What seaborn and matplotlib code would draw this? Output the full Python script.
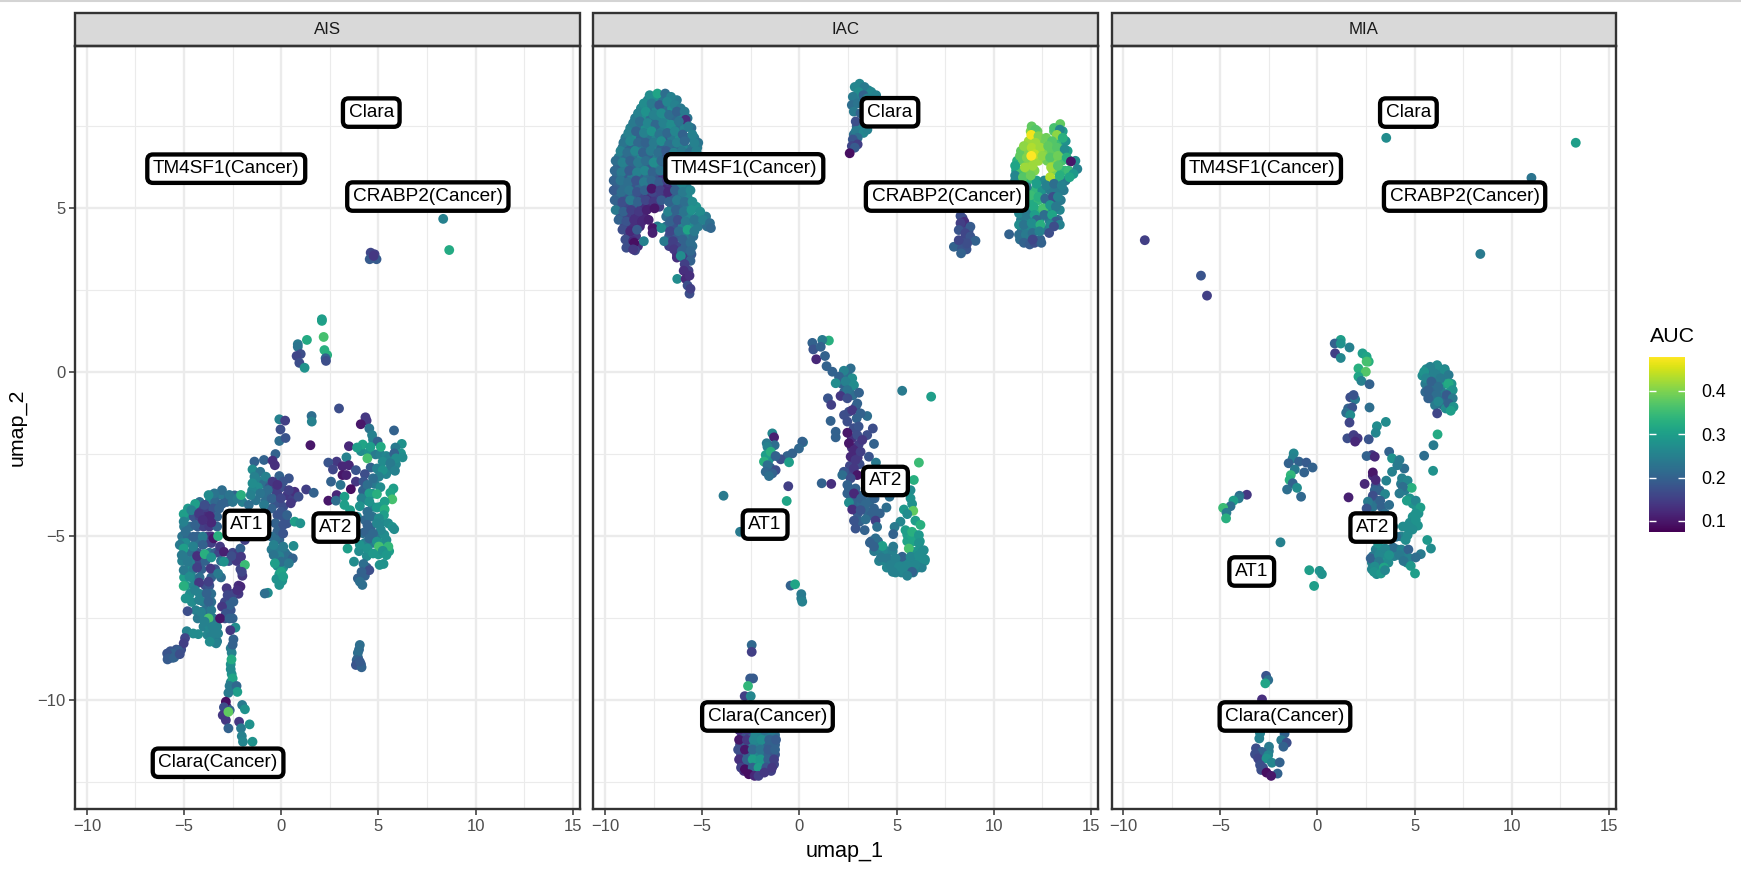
import pandas as pd
import seaborn as sns
import matplotlib
matplotlib.use('Agg')
import matplotlib.pyplot as plt
from matplotlib.cm import ScalarMappable
from matplotlib.colors import Normalize
from matplotlib.lines import Line2D
from matplotlib.patches import Rectangle

# (umap_1, umap_2, AUC), cluster by cluster
ais_top = [(4.6,3.65,.16),(4.8,3.6,.15),(4.55,3.45,.19),(4.9,3.45,.19),(4.75,3.55,.14),(8.33,4.68,.25),(8.64,3.73,.32),
    (2.09,1.57,.31),(2.09,1.62,.3),(2.18,1.08,.36),(2.22,.68,.33),(2.36,.53,.33),(1.32,.99,.32),(.85,.86,.24),(.85,.78,.23),
    (1.0,.56,.17),(.79,.5,.16),(.93,.29,.17),(1.2,.14,.28),(2.28,.43,.2),(2.3,.35,.17)]
ais_at2_fill = [(4.1,-2.4,.27),(4.5,-2.45,.28),(4.85,-2.5,.24),(5.1,-2.5,.25),(5.4,-2.55,.26),(5.55,-2.6,.25),(5.9,-2.8,.26),(5.6,-2.95,.24),(5.4,-3.1,.26),
    (4.6,-2.9,.2),(4.3,-3.1,.17),(4.8,-3.4,.24),(5.1,-3.5,.27),(4.2,-3.6,.2),(4.7,-3.7,.28),(4.4,-3.9,.26),(4.7,-4.1,.25),(5.1,-4.1,.29),(3.9,-4.4,.26),
    (4.3,-4.5,.21),(4.7,-4.4,.23),(5.2,-4.55,.26),(5.5,-4.6,.27),(4.6,-4.75,.2),(4.2,-4.9,.22),(5,-4.95,.24),(5.3,-4.95,.27),(4.7,-5.2,.24),(4.3,-5.2,.25),
    (5.25,-5.2,.3),(4.0,-5.45,.27),(4.4,-5.6,.27),(5.0,-5.55,.29),(5.55,-5.45,.3),(4.4,-5.95,.19),(4.3,-6.2,.2),
    (4.0,-8.45,.21),(3.95,-8.7,.2),(4.1,-8.9,.19)]
ais_at2 = [(2.97,-1.1,.17),(4.33,-1.37,.14),(4.39,-1.47,.14),(4.09,-1.58,.1),(4.53,-1.71,.23),(5.8,-1.77,.2),(4.67,-1.91,.25),(4.72,-2.05,.25),
    (4.96,-2.11,.2),(6.2,-2.18,.28),(4.19,-2.2,.31),(3.48,-2.25,.12),(3.9,-2.29,.3),(4.59,-2.27,.3),(5.12,-2.27,.32),(5.87,-2.29,.24),
    (6.16,-2.47,.28),(5.81,-2.47,.2),(6.24,-2.59,.27),(5.9,-2.62,.27),(3.35,-2.59,.25),(4.43,-2.62,.36),(2.85,-2.72,.14),(2.42,-2.75,.18),
    (5.22,-2.72,.27),(5.61,-2.77,.24),(3.15,-2.86,.12),(3.48,-2.83,.12),(2.66,-2.96,.16),(3.84,-2.98,.18),(4.92,-2.93,.25),(5.22,-2.98,.28),
    (5.85,-3.0,.25),(3.15,-3.13,.1),(3.35,-3.13,.11),(5.02,-3.18,.25),(4.72,-3.23,.22),(2.56,-3.33,.2),(3.84,-3.33,.14),(4.23,-3.33,.18),
    (3.05,-3.43,.23),(4.43,-3.43,.22),(3.58,-3.56,.09),(5.77,-3.54,.3),(5.61,-3.67,.31),(4.53,-3.69,.3),(4.92,-3.71,.33),(2.85,-3.74,.12),
    (3.25,-3.79,.3),(4.13,-3.84,.25),(5.71,-3.87,.36),(2.42,-3.91,.1),(2.81,-3.91,.22),(4.53,-3.94,.28),(5.32,-3.94,.3),(3.25,-4.04,.3),
    (4.04,-4.08,.28),(4.92,-4.12,.29),(5.32,-4.18,.33),(3.54,-4.2,.3),(4.43,-4.25,.22),(5.28,-4.35,.3),(4.53,-4.4,.22),(5.02,-4.45,.27),
    (4.92,-4.6,.26),(4.43,-4.65,.2),(5.71,-4.71,.28),(5.12,-4.8,.26),(5.81,-4.78,.27),(4.33,-4.86,.2),(4.72,-4.91,.21),(4.53,-5.06,.21),
    (5.41,-5.11,.27),(4.92,-5.16,.28),(4.04,-5.26,.28),(3.41,-5.37,.3),(5.51,-5.31,.34),(5.02,-5.31,.36),(4.43,-5.37,.28),(5.22,-5.44,.28),
    (4.72,-5.52,.29),(5.41,-5.57,.29),(3.74,-5.77,.27),(4.23,-5.84,.22),(5.06,-5.87,.28),(5.26,-5.84,.28),(4.53,-6.03,.17),(4.13,-6.08,.2),
    (3.94,-6.28,.2),(4.04,-6.38,.22),(4.17,-6.48,.22),
    (4.04,-8.31,.22),(3.94,-8.55,.22),(3.88,-8.77,.2),(3.98,-8.87,.17),(3.84,-8.92,.18),(4.13,-8.99,.2),(4.04,-8.82,.19)]
ais_at1_fill = [(-3.6,-3.75,.24),(-3.3,-3.75,.22),(-3.0,-3.75,.24),(-2.7,-3.75,.22),(-2.4,-3.75,.2),(-2.1,-3.75,.24),
    (-4.2,-3.95,.22),(-3.7,-3.95,.26),(-3.4,-3.95,.21),(-2.8,-3.95,.2),(-2.5,-3.95,.23),(-2.0,-3.95,.25),
    (-4.8,-4.15,.29),(-4.4,-4.15,.27),(-4.1,-4.15,.16),(-3.8,-4.15,.15),(-3.5,-4.15,.18),(-3.2,-4.15,.2),
    (-4.9,-4.4,.26),(-4.5,-4.4,.18),(-4.2,-4.4,.16),(-3.9,-4.4,.13),(-3.3,-4.4,.2),
    (-5.0,-4.7,.24),(-4.7,-4.7,.22),(-4.3,-4.7,.19),(-4.0,-4.7,.15),(-3.7,-4.7,.14),(-3.3,-4.7,.2),
    (-5.1,-5.0,.23),(-4.8,-5.0,.21),(-4.3,-5.0,.2),(-3.8,-5.0,.15),(-3.6,-5.0,.13),
    (-5.1,-5.2,.25),(-4.9,-5.2,.27),(-4.4,-5.2,.22),(-3.9,-5.2,.18),(-3.6,-5.2,.15),
    (-4.9,-5.5,.24),(-4.6,-5.5,.22),(-4.3,-5.5,.19),(-3.7,-5.5,.24),(-3.4,-5.5,.2),(-3.2,-5.5,.16),(-2.5,-5.5,.16),(-2.2,-5.5,.15),
    (-5.1,-5.75,.25),(-4.6,-5.75,.25),(-4.2,-5.75,.16),(-3.9,-5.75,.2),(-3.1,-5.75,.23),(-2.7,-5.75,.18),(-2.3,-5.75,.14),
    (-4.8,-6.0,.27),(-4.5,-6.0,.24),(-4.1,-6.0,.2),(-3.4,-6.0,.18),(-2.1,-6.0,.16),(-2.0,-6.2,.14),
    (-5.0,-6.25,.3),(-4.6,-6.25,.26),(-4.2,-6.25,.22),(-3.6,-6.25,.2),(-3.1,-6.25,.22),
    (-4.9,-6.5,.3),(-4.5,-6.5,.26),(-3.9,-6.5,.17),(-3.7,-6.5,.18),(-2.2,-6.5,.13),
    (-4.7,-6.75,.27),(-4.2,-6.75,.25),(-3.6,-6.75,.22),(-2.2,-6.75,.14),(-2.5,-6.75,.16),
    (-4.6,-7.0,.27),(-4.0,-7.0,.24),(-3.6,-7.0,.22),(-2.9,-7.0,.16),(-2.6,-7.0,.18),
    (-4.4,-7.25,.25),(-3.9,-7.25,.22),(-3.6,-7.25,.24),(-2.6,-7.25,.18),
    (-4.3,-7.5,.24),(-3.95,-7.5,.25),(-3.5,-7.5,.24),(-2.9,-7.5,.17),(-2.5,-7.5,.2),
    (-4.0,-7.75,.25),(-3.7,-7.75,.26),(-3.3,-7.75,.25),(-3.8,-8.0,.26),(-3.5,-8.0,.25),(-3.5,-8.2,.25),(-3.3,-8.2,.24),
    (-1.2,-3.3,.25),(-.9,-3.4,.22),(-.6,-3.5,.18),(-.3,-3.6,.15),(0,-3.5,.17),(-1.2,-3.5,.27),(-1.5,-3.6,.26),(-.9,-3.7,.22),(-.2,-3.7,.15),(.3,-3.75,.14),(.6,-3.85,.15),
    (-.8,-3.9,.22),(-1.3,-3.9,.23),(-.3,-4.0,.18),(.1,-4.1,.17),(-.5,-4.15,.2),(-.2,-4.35,.18),(.1,-4.4,.18),(-.3,-4.6,.2),(.3,-4.6,.18),(-.2,-4.85,.2),(-.1,-5.1,.2),
    (-.3,-5.1,.22),(-.5,-5.4,.24),(-.1,-5.4,.24),(.2,-5.5,.23),(.35,-5.6,.22),(-.1,-5.6,.25),(-.2,-5.9,.27),(.1,-5.95,.27),(-.1,-6.15,.3),(.05,-6.35,.28),(-.25,-6.3,.28)]
ais_at1 = [(-.1,-1.43,.25),(.2,-1.47,.15),(-.04,-1.74,.17),(-.1,-2.09,.22),(.22,-2.0,.18),(1.56,-1.33,.22),(1.57,-1.5,.25),(1.5,-2.22,.1),
    (-.3,-2.49,.2),(-.89,-2.67,.2),(-1.38,-2.72,.2),(-.45,-2.69,.13),(-.33,-2.83,.13),(-1.48,-2.96,.27),(-1.08,-3.03,.23),(-1.38,-3.18,.25),
    (-.79,-3.18,.25),(-.1,-3.16,.2),(.39,-3.23,.18),(-1.48,-3.38,.27),(-.45,-3.33,.14),(.1,-3.33,.18),(-.2,-3.43,.13),(1.28,-3.57,.15),
    (1.67,-3.67,.2),(.69,-3.64,.13),(.39,-3.59,.15),(-.69,-3.59,.22),(-1.08,-3.69,.23),(-3.05,-3.59,.22),(-3.44,-3.69,.23),(-2.66,-3.74,.23),
    (-3.74,-3.74,.27),(-2.26,-3.84,.24),(-2.07,-3.74,.33),(-1.57,-3.74,.25),(-.49,-3.84,.2),(-.02,-3.84,.16),(.89,-3.79,.17),(.49,-3.99,.14),(-4.43,-4.01,.3),
    (-3.94,-4.04,.17),(-3.05,-4.01,.2),(-1.67,-4.04,.22),(-.89,-4.04,.24),(-5.02,-4.32,.3),(-4.63,-4.2,.25),(-4.23,-4.3,.14),(-3.68,-4.38,.12),
    (0,-4.25,.18),(.3,-4.35,.2),(.69,-4.55,.3),(.98,-4.6,.28),(-5.02,-4.55,.25),(-4.43,-4.65,.2),(-3.6,-4.58,.12),(-4.04,-4.5,.13),(.1,-4.65,.18),
    (-4.92,-4.86,.22),(-4.53,-5.01,.2),(-4.04,-5.01,.24),(-3.48,-5.06,.1),(-3.25,-4.99,.33),(.1,-4.91,.18),(-.49,-5.01,.22),(-5.22,-5.26,.24),
    (-5.02,-5.37,.3),(-4.53,-5.31,.25),(-4.04,-5.26,.2),(-3.15,-5.31,.14),(-2.1,-5.37,.2),(-1.87,-5.11,.15),(-.39,-5.26,.25),(.1,-5.31,.24),
    (.63,-5.29,.27),(-2.95,-5.47,.11),(-5.12,-5.57,.24),(-4.33,-5.6,.13),(-3.94,-5.54,.33),(-3.6,-5.64,.28),(-2.56,-5.6,.17),(-2.07,-5.62,.14),
    (-.39,-5.57,.23),(.59,-5.67,.2),(-4.82,-5.77,.24),(-2.95,-5.77,.28),(-1.87,-5.87,.35),(0,-5.77,.22),(.39,-5.82,.24),(-.33,-5.82,.3),
    (-4.33,-5.95,.15),(-3.64,-5.98,.14),(-5.02,-6.03,.24),(-3.25,-6.13,.24),(-2.03,-6.08,.16),(0,-6.08,.31),(-4.72,-6.23,.27),(.1,-6.23,.3),
    (-4.23,-6.41,.14),(-3.74,-6.38,.15),(-5.02,-6.51,.33),(-2.1,-6.53,.12),(-.1,-6.48,.28),(-2.81,-6.58,.14),(-4.43,-6.64,.25),(-2.26,-6.64,.13),
    (-.69,-6.72,.27),(-.85,-6.74,.22),(-3.84,-6.74,.2),(-2.76,-6.79,.16),(-4.92,-6.89,.28),(-4.23,-6.94,.25),(-3.74,-6.99,.2),(-2.46,-6.99,.2),
    (-2.66,-7.1,.2),(-3.05,-7.14,.14),(-4.82,-7.28,.17),(-4.13,-7.3,.25),(-2.85,-7.35,.18),(-3.74,-7.5,.36),(-3.15,-7.5,.1),(-2.66,-7.5,.2),
    (-3.94,-7.6,.25),(-3.54,-7.75,.25),(-2.36,-7.78,.27),(-2.62,-7.86,.14),(-4.86,-7.89,.25),(-4.53,-7.96,.27),(-4.27,-7.98,.27),(-3.25,-7.96,.25),
    (-3.64,-8.06,.25),(-2.46,-8.14,.2),(-3.35,-8.26,.25),(-3.68,-8.21,.27),(-2.6,-8.41,.24)]
ais_tail = [(-5.8,-8.65,.19),(-5.7,-8.5,.18),(-5.4,-8.45,.18),(-5.6,-8.7,.2),(-5.15,-8.45,.17),(-5.35,-8.6,.19),(-5.85,-8.75,.19),(-4.95,-8.1,.16),
    (-5.02,-8.26,.15),(-5.31,-8.47,.19),(-5.61,-8.57,.2),(-5.87,-8.57,.18),(-5.81,-8.72,.19),(-5.51,-8.69,.2),(-5.22,-8.59,.17),
    (-2.55,-8.55,.25),(-2.5,-8.3,.2),(-2.6,-8.9,.28),(-2.55,-9.2,.28),(-2.6,-9.45,.26),(-2.45,-9.6,.24),(-2.8,-10.2,.15),(-2.65,-10.3,.2),
    (-2.56,-8.75,.32),(-2.6,-9.05,.27),(-2.5,-9.33,.31),(-2.66,-9.56,.24),(-2.3,-9.56,.21),(-2.26,-9.74,.3),(-2.72,-9.77,.24),(-2.85,-10.04,.09),
    (-2.95,-10.21,.17),(-2.85,-10.6,.14),(-3.01,-10.45,.14),(-2.72,-10.35,.38),(-2.72,-10.85,.2),(-2.01,-10.14,.24),(-1.87,-10.27,.28),
    (-2.17,-10.65,.14),(-1.63,-10.73,.28),(-2.07,-10.85,.24),(-2.03,-11.09,.25),(-1.97,-11.26,.26),(-1.48,-11.26,.28)]

iac_tm4sf1_fill = [(-7.8,8.3,.25),(-7.4,8.3,.27),(-7.0,8.3,.23),(-6.6,8.3,.25),(-6.3,8.3,.24),
    (-8.15,8.05,.26),(-7.75,8.05,.23),(-7.35,8.05,.26),(-6.95,8.05,.22),(-6.55,8.05,.27),(-6.2,8.05,.22),
    (-8.45,7.75,.24),(-8.05,7.75,.27),(-7.65,7.75,.22),(-7.25,7.75,.25),(-6.85,7.75,.28),(-6.45,7.75,.21),(-6.05,7.75,.25),(-5.75,7.75,.23),
    (-8.7,7.45,.25),(-8.3,7.45,.23),(-7.9,7.45,.27),(-7.5,7.45,.2),(-7.1,7.45,.24),(-6.7,7.45,.27),(-6.3,7.45,.22),(-5.9,7.45,.25),(-5.55,7.45,.22),
    (-8.95,7.15,.24),(-8.55,7.15,.27),(-8.15,7.15,.2),(-7.75,7.15,.23),(-7.35,7.15,.26),(-6.95,7.15,.19),(-6.55,7.15,.24),(-6.15,7.15,.27),(-5.75,7.15,.22),(-5.4,7.15,.24),(-5.2,7.0,.23),
    (-9.1,6.85,.23),(-8.7,6.85,.2),(-8.3,6.85,.25),(-7.9,6.85,.22),(-7.5,6.85,.26),(-7.1,6.85,.2),(-6.7,6.85,.24),(-6.3,6.85,.2),(-5.9,6.85,.26),(-5.5,6.85,.23),(-5.25,6.85,.24),
    (-9.3,6.55,.24),(-8.9,6.55,.21),(-8.5,6.55,.23),(-8.1,6.55,.26),(-7.7,6.55,.2),(-7.3,6.55,.24),(-6.9,6.55,.17),(-6.5,6.55,.2),(-6.1,6.55,.24),(-5.7,6.55,.25),(-5.25,6.55,.25),(-5.15,6.6,.24),
    (-9.35,6.25,.2),(-8.95,6.25,.24),(-8.55,6.25,.2),(-8.15,6.25,.23),(-7.75,6.25,.19),(-7.35,6.25,.25),(-6.95,6.25,.18),(-6.55,6.25,.15),(-6.15,6.25,.22),(-5.2,6.3,.22),
    (-9.4,5.95,.22),(-9,5.95,.19),(-8.6,5.95,.24),(-8.2,5.95,.2),(-7.8,5.95,.22),(-7.4,5.95,.18),(-7,5.95,.14),(-6.6,5.95,.18),
    (-9.4,5.65,.2),(-9,5.65,.22),(-8.6,5.65,.18),(-8.2,5.65,.21),(-7.8,5.65,.18),(-7.4,5.65,.15),(-7,5.65,.12),(-6.6,5.65,.13),(-6.2,5.65,.2),(-5.8,5.65,.24),(-9.45,5.5,.21),
    (-9.35,5.35,.22),(-8.95,5.35,.19),(-8.55,5.35,.2),(-8.15,5.35,.16),(-7.75,5.35,.13),(-7.35,5.35,.15),(-6.95,5.35,.13),(-6.55,5.35,.19),(-6.15,5.35,.23),(-5.75,5.35,.26),
    (-9.3,5.05,.18),(-8.9,5.05,.16),(-8.5,5.05,.2),(-8.1,5.05,.13),(-7.7,5.05,.12),(-7.2,5.05,.15),(-6.55,5.05,.22),(-6.15,5.05,.21),(-5.75,5.05,.25),(-5.3,5.05,.28),
    (-9.2,4.75,.17),(-8.8,4.75,.15),(-8.4,4.75,.13),(-8,4.75,.12),(-6.85,4.75,.22),(-6.45,4.75,.2),(-6.05,4.75,.24),(-5.65,4.75,.26),(-5.2,4.75,.26),(-4.8,4.75,.24),
    (-9.0,4.45,.16),(-8.6,4.45,.13),(-8.2,4.45,.12),(-7.3,4.45,.24),(-6.85,4.45,.22),(-6.45,4.45,.18),(-6,4.45,.25),(-5.6,4.45,.27),(-5.2,4.45,.24),(-4.75,4.45,.22),
    (-8.8,4.15,.14),(-8.4,4.15,.14),(-6.7,4.15,.18),(-6.3,4.15,.19),(-5.85,4.15,.24),(-5.45,4.15,.22),
    (-8.7,3.85,.16),(-8.3,3.85,.13),(-6.7,3.85,.15),(-6.25,3.85,.16),(-5.85,3.85,.2),(-5.5,3.85,.22),(-6.3,3.6,.14),(-5.95,3.6,.16),(-5.55,3.6,.19)]
iac_tm4sf1 = [(-7.7,8.45,.27),(-7.3,8.5,.31),(-6.9,8.5,.22),(-6.6,8.4,.25),
    (-8.0,8.2,.27),(-7.6,8.2,.24),(-7.2,8.15,.19),(-6.8,8.25,.26),(-6.4,8.15,.25),(-6.1,8.05,.24),
    (-8.3,7.9,.25),(-7.9,7.95,.28),(-7.5,7.85,.25),(-7.1,7.9,.27),(-6.7,7.85,.22),(-6.3,7.95,.2),(-5.9,7.95,.24),(-5.85,7.7,.13),
    (-8.55,7.6,.24),(-8.2,7.65,.22),(-7.8,7.6,.26),(-7.4,7.55,.21),(-7.0,7.6,.25),(-6.6,7.55,.27),(-6.2,7.65,.23),(-5.7,7.5,.24),
    (-8.8,7.3,.25),(-8.4,7.35,.2),(-8.0,7.3,.25),(-7.6,7.35,.28),(-7.2,7.25,.23),(-6.8,7.3,.21),(-6.4,7.35,.26),(-6.0,7.25,.2),(-5.5,7.25,.25),
    (-9.05,7.0,.23),(-8.7,7.05,.26),(-8.3,7.0,.21),(-7.9,7.0,.2),(-7.5,7.0,.24),(-7.1,7.05,.27),(-6.7,6.95,.22),(-6.3,7.0,.25),(-5.9,7.05,.21),(-5.4,7.0,.25),
    (-9.2,6.75,.25),(-8.85,6.7,.22),(-8.45,6.75,.26),(-8.05,6.7,.2),(-7.65,6.75,.24),(-7.25,6.7,.22),(-6.85,6.75,.19),(-6.45,6.7,.25),(-6.05,6.75,.24),(-5.65,6.7,.22),(-5.3,6.75,.25),
    (-9.45,6.45,.22),(-9.1,6.4,.25),(-8.7,6.45,.2),(-8.3,6.4,.24),(-7.9,6.45,.22),(-7.5,6.4,.27),(-7.1,6.45,.21),(-6.7,6.4,.14),(-6.3,6.45,.2),(-5.9,6.4,.24),(-5.4,6.45,.23),
    (-9.5,6.15,.21),(-9.15,6.1,.24),(-8.75,6.15,.19),(-8.35,6.1,.25),(-7.95,6.15,.26),(-7.55,6.1,.2),(-7.15,6.15,.23),(-6.75,6.1,.18),(-6.35,6.15,.24),
    (-9.55,5.85,.2),(-9.2,5.85,.23),(-8.8,5.8,.22),(-8.4,5.85,.18),(-8.0,5.8,.24),(-7.6,5.85,.21),(-7.2,5.8,.19),(-6.8,5.85,.15),(-6.4,5.8,.22),(-6.05,5.75,.26),
    (-9.55,5.55,.19),(-9.15,5.5,.22),(-8.75,5.55,.23),(-8.35,5.5,.18),(-7.95,5.55,.2),(-7.55,5.5,.16),(-7.6,5.6,.1),(-7.15,5.55,.15),(-6.75,5.5,.12),(-6.4,5.55,.2),(-6.0,5.5,.24),(-5.6,5.55,.26),
    (-9.5,5.25,.2),(-9.1,5.2,.17),(-8.7,5.25,.24),(-8.3,5.2,.2),(-7.9,5.25,.16),(-7.5,5.2,.14),(-7.1,5.25,.19),(-6.7,5.2,.2),(-6.3,5.25,.24),(-5.9,5.2,.22),(-5.5,5.2,.27),
    (-9.45,4.95,.24),(-9.05,4.9,.2),(-8.65,4.95,.15),(-8.25,4.9,.14),(-7.85,4.95,.11),(-7.45,5.0,.1),(-6.75,4.9,.25),(-6.35,4.95,.2),(-5.95,4.9,.23),(-5.55,4.95,.28),(-5.1,4.9,.27),
    (-9.3,4.65,.2),(-8.9,4.6,.18),(-8.5,4.65,.13),(-8.1,4.6,.12),(-7.75,4.65,.11),(-6.65,4.6,.2),(-6.25,4.65,.17),(-5.85,4.6,.24),(-5.4,4.65,.23),(-4.95,4.65,.25),(-4.6,4.55,.22),
    (-9.1,4.35,.17),(-8.7,4.3,.12),(-8.35,4.35,.19),(-7.55,4.4,.1),(-7.55,4.25,.11),(-7.1,4.4,.27),(-6.65,4.3,.16),(-6.2,4.3,.22),(-5.75,4.35,.31),(-5.4,4.3,.24),(-4.55,4.4,.21),
    (-8.95,4.05,.17),(-8.55,4.0,.12),(-8.5,3.95,.09),(-8.0,4.0,.25),(-6.95,4.0,.24),(-6.5,4.0,.15),(-6.0,4.05,.2),(-5.6,3.95,.22),
    (-8.9,3.8,.17),(-8.45,3.72,.16),(-8.55,3.75,.14),(-6.45,3.75,.14),(-6.05,3.7,.2),(-5.6,3.7,.21),
    (-6.3,3.5,.13),(-6.0,3.5,.15),(-5.6,3.4,.2),(-6.1,3.55,.27),(-5.9,3.3,.15),(-5.7,3.1,.15),(-6.28,2.85,.27),(-5.95,3.1,.13),(-5.85,2.85,.12),(-5.65,2.95,.13),(-5.75,2.65,.17),(-5.65,2.4,.17),(-5.6,2.55,.15)]
iac_clara = [(3.0,8.7,.25),(3.55,8.6,.26),(2.95,8.4,.25),(3.25,8.25,.24),(2.95,7.5,.2),(3.1,7.45,.25),(2.8,7.25,.22),
    (3.1,8.8,.26),(2.85,8.7,.26),(3.35,8.7,.24),(3.7,8.55,.26),(3.05,8.55,.27),(3.3,8.45,.2),(3.95,8.45,.25),(2.75,8.4,.24),(3.5,8.35,.25),
    (2.7,8.15,.22),(3.0,8.2,.23),(2.8,7.95,.24),(3.15,7.9,.2),(2.9,7.65,.17),(2.9,7.35,.24),(3.3,7.3,.26),(3.0,7.15,.22),(3.5,7.4,.25),(2.75,7.1,.18),
    (2.7,6.9,.16),(3.0,6.95,.15),(2.85,6.85,.19),(2.59,6.68,.09)]
iac_crabp2_fill = [(11.9,7.35,.4),(12.25,7.35,.39),(13.1,7.35,.37),(13.35,7.35,.33),(13.55,7.35,.3),
    (11.8,7.05,.42),(12.5,7.05,.39),(12.8,7.05,.4),(13.2,7.05,.38),(13.45,7.05,.35),(13.7,7.05,.28),
    (11.4,6.75,.38),(11.8,6.75,.4),(12.2,6.75,.43),(12.6,6.75,.4),(13.0,6.75,.38),(13.4,6.75,.39),(13.8,6.75,.3),
    (11.2,6.45,.33),(11.5,6.45,.38),(11.9,6.45,.41),(12.3,6.45,.42),(12.75,6.45,.39),(13.1,6.45,.4),(13.5,6.45,.36),(13.9,6.45,.33),(14.2,6.45,.27),
    (11.15,6.15,.3),(11.4,6.15,.36),(11.75,6.15,.39),(12.1,6.15,.4),(13.05,6.15,.4),(13.5,6.15,.36),(13.65,6.15,.34),
    (11.1,5.85,.26),(11.4,5.85,.3),(11.75,5.85,.34),(12.2,5.85,.3),(12.6,5.85,.26),(13.05,5.85,.38),(13.4,5.85,.33),(13.7,5.85,.24),
    (11.3,5.55,.26),(11.7,5.55,.3),(12.1,5.55,.34),(12.5,5.55,.28),(12.9,5.55,.24),(13.3,5.55,.24),(13.6,5.55,.24),
    (11.55,5.25,.29),(11.9,5.25,.32),(12.3,5.25,.34),(12.7,5.25,.26),(13.1,5.25,.22),(13.45,5.25,.24),
    (11.7,4.95,.24),(12.1,4.95,.28),(12.4,4.95,.34),(12.8,4.95,.3),(13.1,4.95,.24),(13.4,4.95,.26),
    (11.4,4.65,.24),(11.85,4.65,.26),(12.35,4.65,.3),(12.85,4.65,.24),(13.3,4.65,.22),
    (11.45,4.35,.24),(11.8,4.35,.26),(12.2,4.35,.27),(12.55,4.35,.24),
    (11.35,4.05,.22),(11.7,4.05,.22),(12.05,4.05,.2),(12.4,4.05,.2)]
iac_crabp2 = [(11.95,7.5,.38),(12.15,7.4,.37),(13.42,7.57,.38),(13.1,7.45,.36),(13.4,7.4,.26),
    (11.93,7.24,.47),(12.3,7.2,.4),(12.7,7.15,.39),(13.25,7.24,.41),(13.0,7.05,.37),(13.55,7.15,.33),(12.15,7.0,.42),
    (11.55,6.9,.41),(11.95,6.85,.43),(12.4,6.85,.42),(12.8,6.9,.38),(13.25,6.85,.37),(13.65,6.8,.27),
    (11.35,6.6,.38),(11.7,6.55,.4),(12.1,6.65,.44),(11.93,6.6,.48),(12.5,6.6,.41),(12.9,6.55,.37),(13.3,6.6,.39),(13.75,6.55,.33),
    (11.1,6.3,.31),(11.6,6.25,.42),(12.0,6.3,.42),(12.95,6.25,.42),(13.3,6.3,.37),(13.97,6.43,.1),(13.85,6.15,.35),(14.3,6.2,.25),(14.1,6.05,.29),
    (11.1,6.0,.26),(11.5,5.95,.37),(11.9,6.0,.39),(12.9,5.95,.43),(13.4,6.0,.33),(13.9,5.95,.31),
    (11.25,5.7,.27),(11.7,5.65,.24),(12.2,5.75,.3),(12.7,5.7,.25),(13.1,5.75,.22),(13.5,5.7,.25),
    (11.5,5.4,.31),(11.9,5.4,.35),(12.3,5.35,.33),(12.65,5.3,.21),(13.05,5.35,.17),(13.3,5.35,.25),
    (11.6,5.1,.29),(12.05,5.05,.32),(12.55,5.0,.36),(12.9,5.1,.29),(13.2,5.05,.24),
    (11.3,4.85,.26),(11.7,4.8,.24),(12.1,4.8,.3),(12.6,4.8,.22),(12.2,4.65,.21),(13.0,4.8,.31),(13.2,4.6,.19),(13.4,4.5,.25),
    (11.3,4.5,.27),(11.55,4.5,.23),(11.95,4.55,.27),(12.4,4.5,.33),(12.9,4.5,.26),(13.1,4.45,.17),(12.85,4.25,.17),
    (11.3,4.2,.22),(11.65,4.2,.24),(12.0,4.25,.22),(12.35,4.3,.25),(10.79,4.21,.2),
    (11.55,3.95,.2),(11.85,3.9,.19),(12.1,3.95,.17),(12.45,3.95,.2),(12.0,4.05,.16)]
iac_small = [(8.4,4.7,.16),(8.4,4.4,.16),(8.45,4.05,.17),(8.7,4.3,.17),(8.15,3.85,.19),(8.6,3.75,.18),
    (8.29,4.77,.17),(8.49,4.59,.13),(8.29,4.55,.15),(8.8,4.44,.19),(8.2,4.34,.18),(8.54,4.24,.16),(8.8,4.14,.18),(9.06,4.01,.2),
    (7.95,3.83,.2),(8.37,3.78,.18),(8.32,3.63,.2),(8.63,3.93,.17),(8.2,4.03,.16)]
iac_at2_fill = [(3.85,-5.45,.24),(4.2,-5.45,.25),(4.5,-5.45,.26),(4.8,-5.45,.25),(5.8,-5.45,.3),(6.1,-5.45,.28),(6.35,-5.45,.27),
    (4.1,-5.75,.25),(4.4,-5.75,.26),(4.7,-5.75,.25),(5.0,-5.75,.25),(5.3,-5.75,.26),(5.6,-5.75,.27),(5.9,-5.75,.27),(6.2,-5.75,.27),(6.45,-5.75,.27),
    (4.5,-5.95,.26),(4.85,-5.95,.26),(5.2,-5.95,.27),(5.5,-5.95,.25),(5.8,-5.95,.27),(6.1,-5.95,.26),(6.3,-5.95,.25),
    (4.95,-6.1,.26),(5.25,-6.1,.25),(5.6,-6.1,.26),(5.85,-6.1,.24),
    (5.55,-5.15,.31),(5.85,-5.15,.31),(6.2,-5.15,.29),(3.7,-5.15,.2),(4.05,-5.15,.22),(5.55,-4.95,.3),(5.75,-4.95,.31),(5.95,-4.95,.31),
    (2.5,-.1,.22),(2.2,-.35,.2),(2.65,-.45,.24),(2.3,-.6,.2),(2.75,-.7,.22),(2.9,-1.05,.18),(2.55,-1.2,.17),(2.95,-1.4,.2),(2.3,-1.3,.17),(2.8,-1.7,.17),(3.05,-1.65,.18),
    (2.7,-2.0,.13),(3.05,-2.2,.15),(2.7,-2.3,.13),(3.0,-2.6,.14),(2.6,-2.85,.16),(3.1,-2.8,.17),(2.45,-3.1,.18),(2.75,-3.05,.16),(2.55,-3.55,.2),(2.65,-3.8,.2),(3.0,-3.75,.18),
    (3.35,-3.7,.2),(2.9,-4.0,.2),(3.2,-4.0,.21),(3.6,-3.95,.21),(3.0,-4.3,.19),(3.5,-4.25,.21),(3.1,-4.55,.2),(3.7,-4.35,.2)]
iac_at2 = [(1.52,.97,.33),(1.18,.99,.24),(.67,.9,.2),(.72,.7,.18),(1.1,.78,.2),(.87,.4,.12),(1.32,.5,.2),(1.4,.19,.2),
    (2.64,.12,.22),(2.29,.05,.25),(1.7,.02,.2),(2.04,-.13,.2),(2.72,-.18,.27),(2.38,-.28,.25),(2.81,-.39,.27),(1.87,-.33,.27),(2.47,-.54,.23),
    (3.07,-.62,.2),(2.12,-.72,.14),(1.47,-.79,.18),(2.47,-.79,.17),(1.64,-.99,.15),(2.98,-.95,.2),(2.72,-1.15,.14),(3.49,-1.33,.22),(3.15,-1.25,.2),
    (1.61,-1.48,.2),(2.47,-1.5,.17),(3.78,-1.71,.17),(1.87,-1.81,.2),(2.47,-1.84,.1),(1.87,-1.98,.2),(2.98,-1.91,.17),(3.49,-1.91,.17),(3.24,-2.06,.14),
    (3.84,-2.18,.2),(2.55,-2.16,.1),(5.29,-.56,.24),(6.78,-.74,.3),
    (2.81,-2.37,.12),(3.15,-2.42,.15),(3.58,-2.57,.18),(2.64,-2.57,.12),(2.89,-2.67,.14),(3.94,-2.75,.24),(6.15,-2.75,.35),(2.29,-3.03,.18),(2.81,-2.93,.14),
    (2.21,-3.13,.22),(2.98,-3.13,.1),(2.64,-3.23,.17),(5.89,-3.28,.33),(2.47,-3.43,.2),(2.89,-3.54,.2),(5.72,-3.59,.27),(2.47,-3.69,.2),(2.81,-3.69,.12),
    (4.64,-3.79,.22),(3.18,-3.84,.2),(3.87,-3.84,.2),(5.72,-3.84,.28),(2.55,-3.97,.27),(3.41,-4.01,.21),(5.8,-4.01,.28),(4.48,-4.12,.22),(2.72,-4.18,.13),
    (3.15,-4.2,.18),(3.84,-4.15,.2),(5.38,-4.18,.29),(5.86,-4.22,.38),(5.55,-4.32,.27),(4.14,-4.3,.2),(2.81,-4.52,.18),(3.41,-4.48,.22),(3.92,-4.52,.15),
    (5.2,-4.55,.26),(5.97,-4.52,.3),(6.23,-4.65,.33),(4,-4.71,.22),(2.89,-4.76,.18),(3.36,-4.81,.2),(4.9,-4.71,.24),(5.46,-4.81,.3),(5.8,-4.86,.33),
    (6.15,-4.96,.29),(4.83,-4.93,.2),(3.92,-5.06,.22),(3.63,-5.19,.2),(4.27,-5.29,.3),(3.84,-5.31,.2),(4.83,-5.31,.24),(5.63,-5.37,.36),(6.15,-5.21,.28),
    (6.4,-5.42,.27),(5.29,-5.62,.2),(4.2,-5.64,.24),(4.52,-5.67,.24),(4.95,-5.67,.25),(5.72,-5.62,.26),(6.46,-5.7,.27),(6.15,-5.57,.27),(4.69,-5.87,.25),
    (5.12,-5.92,.26),(5.55,-5.87,.26),(5.97,-5.87,.26),(4.8,-6.08,.25),(5.38,-6.08,.26),(5.8,-6.08,.2),(5.55,-6.2,.25)]
iac_at1 = [(-1.5,-2.6,.22),(-1.6,-2.7,.28),(-1.5,-2.9,.2),(-1.39,-1.86,.26),(-1.3,-1.98,.11),(-1.68,-2.16,.24),(.19,-2.13,.24),(-1.27,-2.22,.22),(-1.64,-2.27,.25),(-1.73,-2.52,.3),(-1.47,-2.42,.33),
    (.15,-2.11,.2),(-.02,-2.32,.21),(-.36,-2.47,.2),(-.62,-2.55,.2),(-.96,-2.65,.17),(-1.22,-2.55,.2),(-.53,-2.74,.3),(-1.82,-2.72,.33),(-1.22,-2.98,.17),
    (-1.64,-2.83,.22),(-1.73,-3.03,.21),(-1.39,-3.08,.2),(-1.56,-3.16,.22),(-.57,-3.47,.15),(1.15,-3.38,.2),(1.64,-3.4,.13),(-3.9,-3.76,.24),(-.65,-3.92,.31),
    (-3.05,-4.86,.24),(-.45,-6.5,.2),(-.22,-6.46,.31),(.1,-6.76,.24),(.1,-6.89,.24),(.15,-6.99,.25)]
iac_clara_cancer = [(-2.95,-11.05,.17),(-2.6,-11.05,.2),(-2.25,-11.05,.26),(-1.9,-11.05,.25),(-1.55,-11.05,.24),(-1.25,-11.05,.22),
    (-3.05,-11.35,.16),(-2.7,-11.35,.19),(-2.35,-11.35,.24),(-2.0,-11.35,.25),(-1.6,-11.35,.2),(-1.25,-11.35,.2),
    (-3.0,-11.65,.15),(-2.65,-11.65,.2),(-2.3,-11.65,.27),(-1.95,-11.65,.25),(-1.6,-11.65,.2),(-1.25,-11.65,.18),
    (-2.95,-11.95,.14),(-2.6,-11.95,.18),(-2.25,-11.95,.26),(-1.9,-11.95,.25),(-1.55,-11.95,.18),(-1.3,-11.95,.16),
    (-2.85,-12.15,.12),(-2.5,-12.15,.15),(-2.15,-12.15,.2),(-1.8,-12.15,.17),(-1.45,-12.15,.15),
    (-2.45,-8.31,.21),(-2.45,-8.52,.15),(-2.53,-9.33,.19),(-2.38,-9.33,.19),(-2.64,-9.56,.34),(-2.81,-9.87,.15),(-2.5,-9.87,.26),
    (-3.1,-10.9,.13),(-2.7,-10.9,.15),(-2.2,-10.9,.26),(-1.8,-10.9,.22),(-1.4,-10.9,.24),
    (-3.1,-11.2,.1),(-2.7,-11.2,.14),(-2.35,-11.2,.26),(-1.95,-11.2,.27),(-1.55,-11.2,.2),(-1.2,-11.2,.19),
    (-3.15,-11.5,.17),(-2.8,-11.5,.1),(-2.4,-11.5,.21),(-2,-11.5,.23),(-1.6,-11.5,.19),(-1.25,-11.5,.2),
    (-3.1,-11.8,.13),(-2.7,-11.8,.2),(-2.4,-11.8,.3),(-2,-11.8,.29),(-1.6,-11.8,.2),(-1.3,-11.8,.15),
    (-3,-12.05,.15),(-2.8,-12.1,.09),(-2.4,-12.05,.2),(-2.1,-12.05,.3),(-1.7,-12.05,.18),(-1.4,-12.05,.14),
    (-2.6,-12.25,.09),(-2.3,-12.3,.12),(-2.1,-12.3,.15),(-1.8,-12.2,.14)]

mia_top = [(3.54,7.15,.27),(13.29,7.0,.3),(11.01,5.93,.23),(8.38,3.61,.24),(-8.88,4.03,.15),(-5.99,2.95,.18),(-5.68,2.34,.15),
    (1.2,.99,.3),(.89,.88,.2),(1.2,.88,.28),(1.65,.76,.25),(.91,.58,.15),(1.2,.44,.26),(2.32,.58,.3),(2.53,.48,.31),(2.64,.33,.33),(2.53,.33,.36),
    (2.11,.12,.33),(2.49,.02,.37),(2.11,-.13,.31),(2.26,-.26,.25),(2.68,-.36,.2),(1.69,-.76,.17),(1.94,-.82,.24),(1.86,-.69,.18),(1.58,-1.1,.2),(1.79,-1.07,.18),
    (1.48,-1.23,.22),(1.69,-1.3,.27),(1.65,-1.53,.16),(2.68,-1.07,.22),(3.52,-1.51,.27),(3.06,-1.64,.27),(3.0,-1.84,.26),(1.54,-2.01,.17),(1.86,-1.91,.15),
    (2.07,-2.01,.14),(1.94,-2.11,.12),(2.64,-2.04,.18)]
mia_blob = [(5.6,.1,.27),(5.95,.1,.25),(6.3,.1,.26),(6.55,.1,.25),(5.4,-.1,.27),(5.7,-.1,.24),(6.2,-.1,.25),(6.6,-.1,.27),(5.55,-.35,.24),(6.0,-.35,.23),(6.55,-.35,.3),(6.9,-.35,.28),
    (5.55,-.6,.21),(5.9,-.6,.21),(6.4,-.6,.24),(6.8,-.6,.28),(5.85,-.8,.22),(6.3,-.8,.25),(6.6,-.8,.21),(6.05,-1.0,.24),(6.45,-1.0,.22),(6.85,-1.0,.25),(6.6,-1.1,.27),
    (6.16,.22,.27),(5.8,.17,.25),(5.49,.02,.28),(6.54,.07,.27),(6.01,-.03,.25),(6.75,-.08,.24),(5.59,-.18,.26),(6.33,-.18,.24),(5.86,-.28,.2),(6.75,-.34,.32),
    (5.7,-.54,.2),(6.22,-.44,.22),(6.96,-.54,.28),(6.12,-.69,.22),(6.65,-.69,.19),(5.7,-.79,.2),(6.96,-.79,.24),(6.22,-.89,.26),(6.75,-.95,.2),(7.0,-1.05,.28),
    (6.86,-1.17,.3),(6.16,-1.25,.16),(6.18,-1.89,.32),(5.97,-2.22,.24)]
mia_at2_fill = [(3.0,-5.4,.25),(3.3,-5.4,.27),(3.7,-5.4,.26),(4.1,-5.4,.24),(2.85,-5.6,.24),(3.4,-5.6,.27),(3.95,-5.6,.25),(4.5,-5.6,.25),(2.8,-5.8,.25),(3.0,-5.8,.27),(3.35,-5.8,.28),(3.65,-5.8,.27),(4.6,-5.8,.27),
    (2.8,-6.0,.26),(3.1,-6.0,.28),(3.3,-6.0,.28),(3.05,-6.15,.27),(3.3,-5.0,.26),(3.6,-5.0,.26),(4.3,-5.0,.25),(3.9,-4.7,.24),(4.4,-4.7,.27),(4.55,-4.7,.27),
    (3.0,-3.45,.17),(2.85,-3.15,.13),(3.2,-3.6,.2),(3.0,-3.9,.22),(2.85,-4.1,.23),(3.3,-4.1,.2),(4.3,-3.4,.24),(4.5,-3.6,.24),(4.9,-4.0,.28),(5.1,-4.1,.28),(5.2,-4.3,.28),(4.9,-4.4,.28)]
mia_at2 = [(5.49,-2.54,.22),(3.69,-2.42,.2),(2.81,-2.52,.14),(2.53,-2.55,.2),(2.95,-2.57,.12),(3.84,-2.62,.28),(4.22,-2.67,.24),(5.95,-3,.28),(4.47,-2.93,.22),
    (3.84,-3.03,.25),(4.11,-2.83,.24),(2.85,-3.05,.1),(3,-3.28,.12),(3.54,-3.3,.25),(4.35,-3.23,.25),(4.64,-3.3,.26),(2.43,-3.4,.12),(4.85,-3.52,.33),(2.95,-3.59,.2),
    (4.39,-3.49,.22),(3.48,-3.71,.26),(4.22,-3.69,.24),(1.6,-3.81,.11),(2.85,-3.76,.17),(4.75,-3.84,.28),(4.6,-3.91,.3),(5.06,-3.91,.26),(2.6,-3.94,.24),(3.23,-3.91,.2),
    (3.69,-4.04,.22),(5.3,-4.12,.3),(2.53,-4.15,.18),(5.06,-4.3,.28),(3.48,-4.3,.22),(4.75,-4.58,.27),(5.06,-4.5,.28),(5.17,-4.67,.28),(4.89,-4.79,.27),(4.05,-5.01,.22),
    (4.64,-4.96,.27),(4.54,-5.11,.27),(3.12,-5.21,.28),(5.65,-5.11,.29),(5.84,-5.37,.27),(3.9,-5.34,.22),(3.48,-5.37,.26),(4.32,-5.4,.25),(4.68,-5.4,.2),(5.32,-5.54,.24),
    (2.74,-5.67,.2),(3.16,-5.57,.26),(3.69,-5.57,.28),(4.22,-5.57,.24),(4.75,-5.67,.25),(5.06,-5.64,.22),(4.43,-5.75,.23),(3.16,-5.77,.24),(2.95,-5.92,.27),(3.42,-5.95,.31),
    (4.8,-5.9,.29),(5.02,-6.13,.3),(2.91,-6.08,.28),(3.27,-6.13,.29),(3.48,-6.03,.26)]
mia_at1 = [(-1.9,-5.18,.25),(-.42,-6.03,.3),(.11,-6.05,.28),(.23,-6.15,.28),(-.17,-6.51,.3),(-3.63,-3.73,.14),(-4.01,-3.76,.22),(-4.05,-3.84,.24),(-4.32,-3.91,.3),(-4.47,-4.08,.22),
    (-4.85,-4.13,.35),(-4.68,-4.28,.24),(-4.7,-4.45,.33),(-1.22,-2.47,.26),(-1.27,-2.62,.25),(-1.48,-2.77,.2),(-.95,-2.72,.2),(-.57,-2.75,.19),(-.25,-2.9,.2),(-.68,-3.05,.2),
    (-1.16,-2.96,.24),(-1.37,-3.13,.34),(-1.43,-3.28,.33),(-1.27,-3.38,.2),(-1.05,-3.52,.27),(-1.56,-3.57,.22),(-.84,-3.79,.21)]
mia_clara_cancer = [(-3.1,-11.55,.18),(-2.95,-11.0,.25),(-2.5,-11.55,.24),(-2.95,-11.85,.17),(-2.8,-12.05,.17),(-3.0,-11.65,.17),
    (-2.64,-9.25,.18),(-2.53,-9.38,.22),(-2.68,-9.48,.31),(-2.85,-9.97,.13),(-2.95,-10.96,.25),(-2.99,-11.16,.25),(-1.69,-11.01,.2),(-1.86,-11.21,.24),(-1.58,-11.29,.17),
    (-1.75,-11.41,.2),(-3.16,-11.46,.17),(-2.49,-11.41,.24),(-2.85,-11.57,.2),(-3.21,-11.64,.17),(-2.53,-11.67,.26),(-3.05,-11.77,.16),(-2.62,-11.77,.28),(-2.34,-11.9,.26),
    (-1.94,-11.89,.2),(-2.95,-11.97,.17),(-2.89,-12.12,.17),(-2.62,-12.2,.09),(-2.05,-12.23,.2),(-2.38,-12.3,.1)]

panels = ['AIS', 'IAC', 'MIA']
ais_points = ais_top + ais_at2_fill + ais_at2 + ais_at1_fill + ais_at1 + ais_tail
iac_points = (iac_tm4sf1_fill + iac_tm4sf1 + iac_clara + iac_crabp2_fill + iac_crabp2 + iac_small
              + iac_at2_fill + iac_at2 + iac_at1 + iac_clara_cancer)
mia_points = mia_top + mia_blob + mia_at2_fill + mia_at2 + mia_at1 + mia_clara_cancer

# cluster labels, same order in every panel
label_names = ['Clara', 'TM4SF1(Cancer)', 'CRABP2(Cancer)', 'AT1', 'AT2', 'Clara(Cancer)']
label_x = {'AIS': [4.63, -2.83, 7.54, -1.77, 2.81, -3.25],
           'IAC': [4.66, -2.83, 7.57, -1.76, 4.43, -1.64],
           'MIA': [4.68, -2.85, 7.57, -3.38, 2.85, -1.67]}
label_y = {'AIS': [7.92, 6.21, 5.36, -4.65, -4.73, -11.9],
           'IAC': [7.93, 6.22, 5.36, -4.64, -3.31, -10.49],
           'MIA': [7.92, 6.21, 5.36, -6.07, -4.73, -10.49]}

x_major = [-10, -5, 0, 5, 10, 15]
x_minor = [-7.5, -2.5, 2.5, 7.5, 12.5]
y_major = [-10, -5, 0, 5]
y_minor = [-12.5, -7.5, -2.5, 2.5, 7.5]
auc_ticks = [0.1, 0.2, 0.3, 0.4]
auc_min, auc_max = 0.075, 0.4785

frames = []
for name, pts in zip(panels, [ais_points, iac_points, mia_points]):
    d = pd.DataFrame(pts, columns=['umap_1', 'umap_2', 'AUC'])
    d['stage'] = name
    frames.append(d)
df = pd.concat(frames, ignore_index=True)

W, H = 1741, 874
sns.set_theme(style='white')
plt.rcParams['font.family'] = ['Liberation Sans', 'DejaVu Sans']

g = sns.FacetGrid(df, col='stage', col_order=panels, sharex=True, sharey=True, despine=False)
g.map_dataframe(sns.scatterplot, x='umap_1', y='umap_2', hue='AUC', palette='viridis',
                hue_norm=(auc_min, auc_max), s=50, linewidth=0, legend=False, zorder=3)
g.figure.set_size_inches(W / 100, H / 100)
g.figure.set_dpi(100)
g.figure.subplots_adjust(left=75.4 / W, right=1616.4 / W, top=1 - 46 / H, bottom=1 - 809 / H, wspace=0.0262)

for ax, name in zip(g.axes.flat, panels):
    ax.set_xlim(-10.59, 15.38)
    ax.set_ylim(-13.31, 9.95)
    ax.set_xticks(x_major)
    ax.set_xticks(x_minor, minor=True)
    ax.set_yticks(y_major)
    ax.set_yticks(y_minor, minor=True)
    ax.grid(which='major', color='#ebebeb', lw=1.7, zorder=0)
    ax.grid(which='minor', color='#ebebeb', lw=0.8, zorder=0)
    ax.set_axisbelow(True)
    ax.tick_params(which='major', axis='both', length=4, width=1.1, color='#333333', labelcolor='#4d4d4d',
                   labelsize=12, pad=3, bottom=True, left=name == 'AIS', labelbottom=True)
    ax.tick_params(which='minor', length=0)
    ax.set_xlabel('')
    ax.set_ylabel('')
    ax.set_title('')
    for s in ax.spines.values():
        s.set_color('#333333')
        s.set_linewidth(1.7)
        s.set_zorder(6)
    # strip on top of the panel
    ax.add_patch(Rectangle((0, 1), 1, 33 / 763, transform=ax.transAxes, clip_on=False,
                           fc='#d9d9d9', ec='#333333', lw=1.7, zorder=5))
    ax.text(0.5, 1 + 16.5 / 763, name, transform=ax.transAxes, ha='center', va='center',
            fontsize=12.2, color='#1a1a1a', zorder=6)
    for lab, lx, ly in zip(label_names, label_x[name], label_y[name]):
        ax.text(lx, ly, lab, ha='center', va='center', fontsize=13.7, color='black', zorder=7,
                bbox=dict(boxstyle='round,pad=0.3,rounding_size=0.3', fc='white', ec='black', lw=3.1))

g.figure.text(845 / W, 1 - 851.5 / H, 'umap_1', ha='center', va='center', fontsize=15.6, color='black')
g.figure.text(17 / W, 1 - 427 / H, 'umap_2', ha='center', va='center', rotation=90, fontsize=15.4, color='black')

# colour bar, white ticks inside like ggplot
cax = g.figure.add_axes([1649 / W, 1 - 531.7 / H, 36 / W, 174.7 / H])
sm = ScalarMappable(norm=Normalize(auc_min, auc_max), cmap='viridis')
cb = g.figure.colorbar(sm, cax=cax, ticks=auc_ticks)
cb.outline.set_visible(False)
cb.ax.tick_params(length=0, labelsize=12.7, pad=12, labelcolor='black')
cb.ax.set_yticklabels(['0.1', '0.2', '0.3', '0.4'])
cax.hlines(auc_ticks, 0, 0.2, transform=cax.get_yaxis_transform(), color='white', lw=1)
cax.hlines(auc_ticks, 0.8, 1, transform=cax.get_yaxis_transform(), color='white', lw=1)
g.figure.text(1650 / W, 1 - 337 / H, 'AUC', ha='left', va='center', fontsize=15.4, color='black')

# thin grey line at the very top of the screenshot
g.figure.add_artist(Line2D([0, 1], [1 - 0.5 / H, 1 - 0.5 / H], transform=g.figure.transFigure, color='#d4d4d4', lw=1.5))

g.figure.savefig('out.png', dpi=100, facecolor='white')
